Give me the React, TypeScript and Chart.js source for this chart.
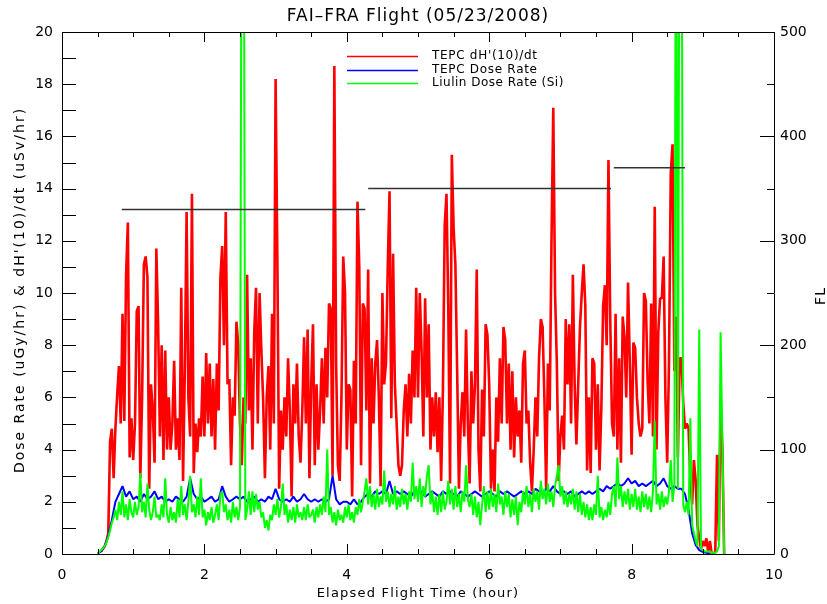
import { useEffect, useRef } from "react";
import { Chart, registerables } from "chart.js";

Chart.register(...registerables);

// ---------- text ----------
const TITLE = "FAI\u2013FRA Flight (05/23/2008)";
const X_TITLE = "Elapsed Flight Time (hour)";
const Y_TITLE = "Dose Rate (uGy/hr) & dH'(10)/dt (uSv/hr)";
const Y2_TITLE = "FL";
const SERIES_NAMES = ["TEPC dH'(10)/dt", "TEPC Dose Rate", "Liulin Dose Rate (Si)"];
const SERIES_COLORS = ["#ff0000", "#0000ff", "#00ff00"];

// ---------- axes ----------
const X_MIN = 0, X_MAX = 10, X_LABEL_STEP = 2, X_MINOR = 0.5;
const Y_MIN = 0, Y_MAX = 20, Y_LABEL_STEP = 2, Y_MINOR = 1;
const FL_MIN = 0, FL_MAX = 500, FL_LABEL_STEP = 100, FL_MINOR = 50;

// ---------- data ----------
// TEPC dH*(10)/dt, sampled every 0.025 h starting at 0.55 h
const RED_START = 0.55;
const RED_STEP = 0.025;
const redValues = [
  0.1, 0.2, 0.3, 0.5, 0.8, 4.3, 4.8, 2.9, 4.8, 6.1,
  7.2, 5.0, 9.2, 5.1, 10.7, 12.7, 3.7, 5.2, 3.6, 5.0,
  9.3, 9.5, 2.9, 6.0, 11.1, 11.4, 10.6, 2.5, 6.5, 5.5,
  3.5, 11.7, 8.8, 4.5, 8.0, 3.6, 7.8, 4.0, 6.0, 4.0,
  5.0, 7.4, 4.0, 5.2, 3.6, 10.2, 2.8, 7.0, 13.1, 6.0,
  4.5, 13.8, 3.1, 5.0, 3.9, 5.2, 4.5, 6.8, 4.5, 7.7,
  5.0, 7.3, 4.5, 6.7, 4.0, 7.3, 5.5, 10.6, 11.8, 8.0,
  13.1, 6.5, 6.7, 3.4, 6.0, 5.3, 8.9, 8.0, 5.0, 3.4,
  6.0, 5.0, 10.7, 5.5, 7.5, 4.0, 8.5, 10.2, 5.0, 10.0,
  7.8, 5.9, 2.9, 6.0, 7.2, 4.0, 9.2, 5.0, 18.2, 11.2,
  2.5, 5.5, 4.0, 6.0, 4.5, 7.5, 5.5, 2.2, 6.5, 5.0,
  7.3, 4.5, 3.5, 5.5, 8.3, 5.0, 8.6, 2.9, 6.5, 8.8,
  3.4, 6.5, 4.0, 5.5, 7.5, 5.0, 7.9, 6.0, 9.6, 9.4,
  3.0, 18.7, 7.3, 3.4, 2.8, 6.0, 11.4, 10.0, 4.0, 6.5,
  6.3, 2.2, 7.4, 5.0, 13.5, 11.0, 3.4, 9.6, 9.4, 5.5,
  10.9, 2.7, 7.5, 5.0, 7.3, 8.2, 6.0, 2.6, 10.0, 6.5,
  7.3, 11.0, 13.9, 5.2, 11.5, 6.5, 5.0, 3.4, 3.0, 3.4,
  5.5, 6.5, 4.5, 6.9, 5.0, 7.8, 6.0, 10.2, 6.0, 10.0,
  7.8, 4.5, 9.8, 6.0, 8.8, 4.0, 6.0, 4.5, 6.2, 3.9,
  6.0, 2.8, 6.3, 12.6, 13.8, 9.5, 2.7, 15.3, 12.5, 11.1,
  7.0, 2.5, 5.0, 6.2, 4.5, 8.6, 5.0, 2.7, 7.0, 5.0,
  6.5, 10.9, 4.0, 2.4, 6.3, 4.5, 8.8, 8.4, 6.5, 2.5,
  4.0, 2.4, 6.0, 4.3, 7.5, 5.0, 8.7, 8.2, 5.0, 7.3,
  4.0, 7.0, 3.7, 6.0, 4.5, 5.5, 3.5, 7.3, 7.8, 5.0,
  5.5, 3.5, 2.4, 4.0, 6.0, 4.5, 7.5, 9.0, 8.7, 6.0,
  2.5, 7.3, 5.5, 12.0, 17.1, 10.0, 7.3, 2.8, 4.5, 5.3,
  4.0, 9.0, 6.5, 8.8, 5.0, 10.7, 6.5, 4.2, 6.5, 8.7,
  10.0, 11.1, 9.5, 3.2, 6.0, 3.1, 7.5, 7.3, 4.0, 6.5,
  3.2, 5.6, 9.5, 10.3, 8.0, 15.1, 9.0, 5.0, 4.5, 9.2,
  4.0, 7.5, 3.5, 9.1, 8.3, 6.0, 10.4, 7.3, 3.8, 8.1,
  7.9, 6.0, 5.0, 4.5, 4.8, 10.0, 9.7, 6.6, 5.0, 9.6,
  4.5, 13.3, 4.0, 8.5, 9.8, 9.8, 11.4, 6.0, 3.5, 7.3,
  14.6, 15.7, 7.0, 9.1, 3.7, 7.5, 7.5, 5.8, 4.8, 5.0,
  4.8, 2.9, 1.9, 3.6, 2.8, 1.1, 0.6, 0.2, 0.5, 0.3,
  0.6, 0.1, 0.5, 0.0, 0.0, 0.1, 3.8, 0.5, 5.9, 4.0,
  0.0,
];

// TEPC dose rate, sampled every 0.05 h starting at 0.5 h
const BLUE_START = 0.5;
const BLUE_STEP = 0.05;
const blueValues = [
  0.02, 0.1, 0.3, 0.7, 1.3, 2.0, 2.3, 2.6, 2.2, 2.4,
  2.1, 2.2, 2.0, 2.3, 2.1, 2.2, 2.4, 2.1, 2.2, 2.0,
  2.1, 2.0, 2.2, 2.1, 2.0, 2.2, 2.9, 2.3, 2.1, 2.2,
  2.0, 2.1, 2.2, 2.0, 2.1, 2.6, 2.2, 2.0, 2.1, 2.2,
  2.1, 2.2, 2.0, 2.1, 2.2, 2.0, 2.1, 2.0, 2.2, 2.1,
  2.5, 2.1, 2.0, 2.1, 2.0, 2.2, 2.0, 2.1, 2.3, 2.1,
  2.0, 2.1, 2.0, 2.1, 2.0, 2.1, 3.0, 2.1, 1.9, 2.0,
  2.0, 1.9, 2.1, 1.9, 2.0, 2.2, 2.3, 2.2, 2.4, 2.3,
  2.4, 2.3, 2.8, 2.3, 2.4, 2.3, 2.4, 2.3, 2.2, 2.4,
  2.3, 2.4, 2.2, 2.3, 2.4, 2.3, 2.2, 2.4, 2.3, 2.4,
  2.3, 2.2, 2.4, 2.3, 2.2, 2.3, 2.4, 2.3, 2.2, 2.3,
  2.4, 2.3, 2.2, 2.4, 2.3, 2.4, 2.3, 2.2, 2.3, 2.4,
  2.3, 2.4, 2.3, 2.5, 2.4, 2.3, 2.5, 2.4, 2.6, 2.4,
  2.3, 2.4, 2.3, 2.4, 2.2, 2.3, 2.4, 2.3, 2.4, 2.3,
  2.4, 2.5, 2.4, 2.6, 2.5, 2.6, 2.7, 2.6, 2.7, 2.9,
  2.7, 2.8, 2.6, 2.7, 2.6, 2.7, 2.8, 2.6, 2.7, 2.9,
  2.6, 2.5, 2.6, 2.5, 2.5, 2.3, 1.7, 0.8, 0.35, 0.15,
  0.08, 0.05, 0.02,
];

// Liulin dose rate (Si), sampled every 0.025 h starting at 0.5 h
const GREEN_START = 0.5;
const GREEN_STEP = 0.025;
const greenValues = [
  0.02, 0.08, 0.15, 0.22, 0.3, 0.45, 0.65, 0.9, 1.2, 1.4,
  1.7, 1.3, 2.0, 1.5, 2.4, 1.4, 1.9, 1.3, 2.1, 1.6,
  1.4, 2.0, 1.5, 1.8, 3.1, 1.6, 2.0, 1.4, 2.7, 1.7,
  1.3, 1.6, 2.2, 1.4, 1.5, 1.3, 1.9, 1.4, 2.9, 1.5,
  1.2, 1.8, 1.3, 1.6, 1.2, 2.1, 1.4, 2.6, 1.5, 1.9,
  1.3, 2.0, 3.0, 1.6, 1.9, 1.4, 2.2, 1.5, 2.9, 1.4,
  1.7, 1.1, 1.6, 1.3, 1.8, 1.2, 1.5, 1.9, 1.3, 2.3,
  2.4, 1.6, 1.9, 1.3, 1.7, 1.2, 2.0, 1.4, 1.8, 1.3,
  1.8, 30, 30, 1.3, 1.7, 2.4, 1.5, 2.4, 1.6, 2.3,
  1.7, 2.0, 1.4, 1.6, 1.0, 1.3, 0.9, 1.5, 1.3, 1.9,
  1.5, 2.1, 1.4, 1.8, 2.7, 1.5, 1.9, 1.2, 1.7, 1.3,
  1.8, 1.2, 1.9, 1.4, 1.6, 1.3, 1.8, 1.3, 1.9, 1.4,
  1.5, 1.7, 1.2, 1.8, 1.4, 1.9, 1.5, 2.2, 1.6, 4.0,
  1.5, 1.8, 1.2, 1.6, 1.1, 1.7, 1.3, 1.5, 1.2, 1.8,
  1.4, 1.9, 1.3, 1.6, 1.2, 1.8, 1.5, 2.1, 1.6, 2.0,
  2.4, 2.9, 1.9, 2.6, 1.8, 2.3, 1.7, 2.5, 1.8, 2.2,
  1.9, 3.2, 2.0, 2.4, 1.8, 2.3, 1.9, 2.6, 1.7, 2.2,
  1.8, 2.5, 1.9, 2.3, 1.7, 2.4, 2.0, 3.5, 2.1, 2.6,
  2.0, 2.9, 1.8, 2.6, 2.2, 3.0, 3.4, 1.9, 2.4, 1.6,
  2.2, 1.5, 2.3, 1.6, 2.4, 1.7, 2.0, 2.8, 1.9, 2.5,
  1.7, 2.6, 1.8, 2.3, 1.6, 2.4, 2.0, 3.4, 2.1, 1.8,
  2.3, 1.5, 2.2, 1.4, 2.0, 1.1, 1.9, 2.6, 1.6, 2.4,
  1.7, 2.5, 1.8, 2.3, 1.6, 2.7, 1.9, 2.2, 1.5, 2.4,
  1.8, 2.3, 1.4, 2.1, 1.5, 2.2, 1.1, 2.0, 1.6, 2.4,
  1.9, 2.6, 1.8, 2.3, 1.6, 2.5, 2.0, 2.4, 1.7, 2.8,
  2.1, 2.5, 1.9, 2.7, 2.0, 2.4, 1.8, 2.6, 3.0, 3.4,
  2.2, 2.6, 1.9, 2.4, 1.8, 2.3, 1.9, 2.5, 1.7, 2.4,
  1.6, 2.3, 1.5, 2.0, 1.4, 1.9, 1.3, 1.8, 1.3, 1.9,
  1.5, 3.0, 1.4, 1.8, 1.3, 1.7, 1.4, 2.0, 1.5, 2.3,
  2.6, 1.8, 3.7, 2.1, 2.6, 1.8, 2.4, 1.9, 2.5, 1.7,
  2.3, 1.8, 2.5, 1.7, 2.2, 1.6, 2.4, 1.8, 2.3, 1.7,
  2.2, 1.6, 2.4, 5.1, 1.9, 2.3, 1.7, 2.4, 1.8, 2.2,
  1.9, 2.4, 3.6, 2.0, 2.6, 30, 2.5, 30, 30, 1.9,
  1.6, 2.0, 1.5, 5.2, 1.1, 0.8, 0.5, 0.3, 8.6, 0.2,
  0.15, 0.1, 0.1, 0.1, 0.1, 0.05, 0.05, 0.05, 0.1, 0.3,
  8.5, 4.3, 0.0,
];

// Flight level segments (right axis)
const flStart = [0.84, 4.3, 7.75];
const flEnd = [4.26, 7.71, 8.75];
const flLevel = [330, 350, 370];

// ---------- layout (pixels) ----------
const W = 827, H = 604;
const PLOT_LEFT = 62, PLOT_RIGHT = 774, PLOT_TOP = 32, PLOT_BOTTOM = 554;
const FONT = "'DejaVu Sans', sans-serif";

function toPoints(start: number, step: number, vals: number[]) {
  return vals.map((v, i) => ({ x: Math.round((start + i * step) * 1000) / 1000, y: v }));
}

function flPoints() {
  const pts: { x: number; y: number | null }[] = [];
  for (let i = 0; i < flLevel.length; i++) {
    pts.push({ x: flStart[i], y: flLevel[i] });
    pts.push({ x: flEnd[i], y: flLevel[i] });
    pts.push({ x: flEnd[i], y: null });
  }
  return pts;
}

function spaced(ctx: any, px: number) {
  if ("letterSpacing" in ctx) ctx.letterSpacing = `${px}px`;
}

const decorPlugin = {
  id: "decor",
  afterDraw(chart: any) {
    const ctx = chart.ctx as CanvasRenderingContext2D;
    const { left, right, top, bottom } = chart.chartArea;
    const xs = chart.scales.x, ys = chart.scales.y, y2 = chart.scales.y2;
    ctx.save();
    ctx.strokeStyle = "#000";
    ctx.lineWidth = 1;
    ctx.beginPath();
    ctx.rect(Math.round(left) + 0.5, Math.round(top) + 0.5, Math.round(right - left), Math.round(bottom - top));
    ctx.stroke();

    ctx.beginPath();
    for (let v = X_MIN; v <= X_MAX + 1e-9; v += X_MINOR) {
      const px = Math.round(xs.getPixelForValue(v)) + 0.5;
      const major = Math.abs(v / X_LABEL_STEP - Math.round(v / X_LABEL_STEP)) < 1e-6;
      const len = major ? 10 : 5;
      ctx.moveTo(px, bottom); ctx.lineTo(px, bottom - len);
      ctx.moveTo(px, top); ctx.lineTo(px, top + len);
    }
    for (let v = Y_MIN; v <= Y_MAX + 1e-9; v += Y_MINOR) {
      const py = Math.round(ys.getPixelForValue(v)) + 0.5;
      ctx.moveTo(left, py); ctx.lineTo(left + 14, py);
    }
    for (let v = FL_MIN; v <= FL_MAX + 1e-9; v += FL_MINOR) {
      const py = Math.round(y2.getPixelForValue(v)) + 0.5;
      const major = v % FL_LABEL_STEP === 0;
      ctx.moveTo(right, py); ctx.lineTo(right - (major ? 14 : 7), py);
    }
    ctx.stroke();

    ctx.fillStyle = "#000";
    ctx.textAlign = "center";
    ctx.textBaseline = "middle";

    // title
    ctx.font = `17px ${FONT}`;
    spaced(ctx, 1);
    ctx.fillText(TITLE, (left + right) / 2, 17);

    // x title
    ctx.font = `13px ${FONT}`;
    spaced(ctx, 1.2);
    ctx.fillText(X_TITLE, (left + right) / 2, 594);

    // y title
    ctx.save();
    ctx.translate(20, (top + bottom) / 2 - 3);
    ctx.rotate(-Math.PI / 2);
    ctx.font = `14px ${FONT}`;
    spaced(ctx, 2);
    ctx.fillText(Y_TITLE, 0, 0);
    ctx.restore();

    // y2 title
    ctx.save();
    ctx.translate(821, (top + bottom) / 2 + 3);
    ctx.rotate(-Math.PI / 2);
    ctx.font = `14px ${FONT}`;
    spaced(ctx, 1);
    ctx.fillText(Y2_TITLE, 0, 0);
    ctx.restore();

    // legend
    const legY = [56, 70, 83];
    ctx.font = `12px ${FONT}`;
    ctx.textAlign = "left";
    ctx.lineWidth = 1.5;
    const legSpacing = [0.7, 0.7, 0.5];
    for (let i = 0; i < SERIES_NAMES.length; i++) {
      ctx.strokeStyle = SERIES_COLORS[i];
      ctx.beginPath();
      ctx.moveTo(347, legY[i] + 0.5);
      ctx.lineTo(418, legY[i] + 0.5);
      ctx.stroke();
      ctx.fillStyle = "#000";
      spaced(ctx, legSpacing[i]);
      ctx.fillText(SERIES_NAMES[i], 432, legY[i]);
    }
    spaced(ctx, 0);
    ctx.restore();
  },
};

export default function App() {
  const ref = useRef<HTMLCanvasElement | null>(null);
  useEffect(() => {
    if (!ref.current) return;
    const tickFont = { family: FONT, size: 14 };
    const lineBase = { pointRadius: 0, tension: 0, borderJoinStyle: "bevel", yAxisID: "y" };
    const chart = new Chart(ref.current, {
      type: "line",
      data: {
        datasets: [
          {
            label: "FL",
            data: flPoints() as any,
            yAxisID: "y2",
            borderColor: "#333333",
            borderWidth: 1.5,
            pointRadius: 0,
            spanGaps: false,
            order: 0,
          },
          {
            ...lineBase,
            label: SERIES_NAMES[0],
            data: toPoints(RED_START, RED_STEP, redValues),
            borderColor: SERIES_COLORS[0],
            borderWidth: 2.6,
            order: 3,
          },
          {
            ...lineBase,
            label: SERIES_NAMES[1],
            data: toPoints(BLUE_START, BLUE_STEP, blueValues),
            borderColor: SERIES_COLORS[1],
            borderWidth: 2,
            order: 2,
          },
          {
            ...lineBase,
            label: SERIES_NAMES[2],
            data: toPoints(GREEN_START, GREEN_STEP, greenValues),
            borderColor: SERIES_COLORS[2],
            borderWidth: 2,
            order: 1,
          },
        ] as any,
      },
      options: {
        responsive: false,
        animation: false,
        events: [],
        layout: { padding: { top: PLOT_TOP, left: 0, right: 0, bottom: 0 } },
        plugins: { legend: { display: false }, title: { display: false }, tooltip: { enabled: false } },
        scales: {
          x: {
            type: "linear",
            min: X_MIN,
            max: X_MAX,
            grid: { display: false, drawTicks: false },
            border: { display: false },
            ticks: { stepSize: X_LABEL_STEP, color: "#000", font: tickFont, padding: 13, maxRotation: 0 },
            afterFit: (s: any) => { s.height = H - PLOT_BOTTOM; },
          },
          y: {
            type: "linear",
            position: "left",
            min: Y_MIN,
            max: Y_MAX,
            grid: { display: false, drawTicks: false },
            border: { display: false },
            ticks: { stepSize: Y_LABEL_STEP, color: "#000", font: tickFont, padding: 9 },
            afterFit: (s: any) => { s.width = PLOT_LEFT; },
          },
          y2: {
            type: "linear",
            position: "right",
            min: FL_MIN,
            max: FL_MAX,
            grid: { display: false, drawTicks: false },
            border: { display: false },
            ticks: { stepSize: FL_LABEL_STEP, color: "#000", font: tickFont, padding: 6 },
            afterFit: (s: any) => { s.width = W - PLOT_RIGHT; },
          },
        },
      } as any,
      plugins: [decorPlugin],
    });
    return () => chart.destroy();
  }, []);
  return (
    <div style={{ position: "absolute", left: 0, top: 0, width: W, height: H, background: "#fff" }}>
      <canvas ref={ref} width={W} height={H} style={{ width: W, height: H, display: "block" }} />
    </div>
  );
}
